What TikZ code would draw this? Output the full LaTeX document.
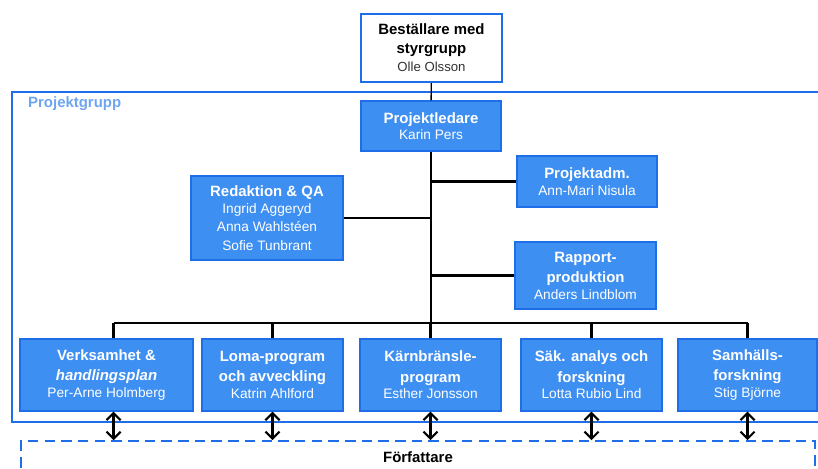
\documentclass[tikz,border=0pt]{standalone}
\usepackage{fontspec}
\setmainfont{Liberation Sans}
\usetikzlibrary{arrows.meta,positioning,calc}
\definecolor{orgblue}{RGB}{62,143,242}
\definecolor{orgedge}{RGB}{30,110,232}
\definecolor{grplabel}{RGB}{110,165,238}
\newcommand{\who}[1]{{\mdseries\fontsize{7.8}{9.5}\selectfont #1}}

\begin{document}
\begin{tikzpicture}[x=0.02cm, y=-0.02cm,
    orgbox/.style={draw=orgedge, fill=orgblue, text=white, line width=0.8pt,
      align=center, inner sep=1pt, font=\bfseries\fontsize{8.5}{11.5}\selectfont},
    tree/.style={line width=1.4pt, black},
    twoway/.style={line width=1.2pt, {Straight Barb[length=4pt,width=8pt]}-{Straight Barb[length=4pt,width=8pt]}}]

  %% fixed frame 818 x 468 px
  \useasboundingbox (0,0) rectangle (818,468);

  %% Projektgrupp frame (right edge lies outside the picture)
  \draw[orgedge, line width=1.2pt] (825,92) -- (12,92) -- (12,422) -- (825,422);
  \node[anchor=west, text=grplabel, font=\bfseries\fontsize{8.5}{10}\selectfont] (grp) at (22,104) {Projektgrupp};

  %% Top of the tree
  \node[draw=orgedge, fill=white, line width=1.3pt, align=center, inner sep=1pt,
        minimum width=2.82cm, minimum height=1.36cm,
        font=\bfseries\fontsize{8.5}{10.5}\selectfont] (best) at (431.5,48)
        {Beställare med\\styrgrupp\\[0pt]{\mdseries\fontsize{7.5}{9}\selectfont\color{black!80}Olle Olsson}};
  \node[orgbox, minimum width=2.8cm, minimum height=1.0cm] (ledare) at (431,126)
        {Projektledare\\[-2pt]\who{Karin Pers}};

  %% Staff boxes
  \node[orgbox, minimum width=2.8cm, minimum height=1.02cm] (adm) at (587,181.5)
        {Projektadm.\\[-2pt]\who{Ann-Mari Nisula}};
  \node[orgbox, minimum width=3.04cm, minimum height=1.68cm] (red) at (267,218)
        {Redaktion \& QA\\[-2pt]\who{Ingrid Aggeryd}\\[-1pt]\who{Anna Wahlstéen}\\[-1pt]\who{Sofie Tunbrant}};
  \node[orgbox, minimum width=2.82cm, minimum height=1.34cm] (rap) at (585.5,275.5)
        {Rapport-\\produktion\\[-2pt]\who{Anders Lindblom}};

  %% Line boxes
  \node[orgbox, minimum width=3.46cm, minimum height=1.44cm] (b1) at (106.5,375)
        {Verksamhet \&\\\textit{handlingsplan}\\[-2pt]\who{Per-Arne Holmberg}};
  \node[orgbox, minimum width=2.82cm, minimum height=1.44cm] (b2) at (272.5,375)
        {Loma-program\\och avveckling\\[-2pt]\who{Katrin Ahlford}};
  \node[orgbox, minimum width=2.82cm, minimum height=1.44cm] (b3) at (430.5,375)
        {Kärnbränsle-\\program\\[-2pt]\who{Esther Jonsson}};
  \node[orgbox, minimum width=2.82cm, minimum height=1.44cm] (b4) at (591.5,375)
        {Säk. analys och\\forskning\\[-2pt]\who{Lotta Rubio Lind}};
  \node[orgbox, minimum width=2.78cm, minimum height=1.44cm] (b5) at (747.5,375)
        {Samhälls-\\forskning\\[-2pt]\who{Stig Björne}};

  %% Författare
  \node[draw=orgedge, dashed, dash pattern=on 6pt off 3.5pt, line width=0.9pt,
        minimum width=15.88cm, minimum height=0.64cm, inner sep=0pt,
        font=\bfseries\fontsize{8.5}{10}\selectfont] (forf) at (418,457) {Författare};

  %% Connectors
  \coordinate (bar) at (431,323);
  \draw[line width=0.8pt] (best) -- (ledare);
  \draw[tree] (ledare) -- (ledare.south |- bar);
  \draw[tree] (ledare.south |- adm.west) -- (adm.west);
  \draw[tree] (ledare.south |- red.east) -- (red.east);
  \draw[tree] (ledare.south |- rap.west) -- (rap.west);
  \draw[tree] ([xshift=4pt]b1.north |- bar) -- (b5.north |- bar);
  \draw[tree] ([xshift=4pt]b1.north) -- ([xshift=4pt]b1.north |- bar);
  \foreach \b in {b2,b3,b4,b5}
    \draw[tree] (\b.north) -- (\b.north |- bar);

  %% Two-way arrows to Författare
  \draw[twoway] ([xshift=4pt]b1.south) -- ([xshift=4pt]b1.south |- forf.north);
  \foreach \b in {b2,b3,b4,b5}
    \draw[twoway] (\b.south) -- (\b.south |- forf.north);
\end{tikzpicture}
\end{document}
